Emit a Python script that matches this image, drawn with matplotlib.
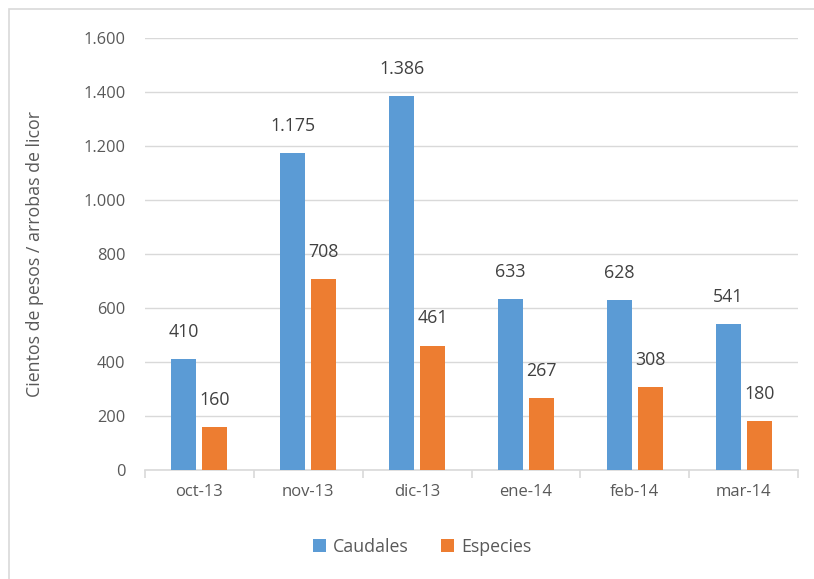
import matplotlib
matplotlib.use("Agg")
import matplotlib.pyplot as plt
import numpy as np
from matplotlib.patches import Rectangle

categories = ["oct-13", "nov-13", "dic-13", "ene-14", "feb-14", "mar-14"]
caudales = [410, 1175, 1386, 633, 628, 541]
especies = [160, 708, 461, 267, 308, 180]
yticks = [0, 200, 400, 600, 800, 1000, 1200, 1400, 1600]

def fmt(v):
    return f"{v:,}".replace(",", ".")

plt.rcParams['font.family'] = ['Open Sans', 'DejaVu Sans']
txt = "#595959"
blue = "#5B9BD5"
orange = "#ED7D31"

fig = plt.figure(figsize=(8.14, 5.79), dpi=100)
fig.patches.append(Rectangle((9/814, -0.1), 1.2, (579-9)/579 + 0.1, transform=fig.transFigure,
                             fill=False, edgecolor="#D9D9D9", linewidth=1.2))
ax = fig.add_axes([145/814, 109/579, 653/814, 432/579])

x = np.arange(len(categories))
w = 0.23
off = 0.1425
b1 = ax.bar(x - off, caudales, w, color=blue, label="Caudales", zorder=3)
b2 = ax.bar(x + off, especies, w, color=orange, label="Especies", zorder=3)

for bars, vals in ((b1, caudales), (b2, especies)):
    for r, v in zip(bars, vals):
        ax.annotate(fmt(v), (r.get_x() + r.get_width()/2, v), xytext=(0, 19.5),
                    textcoords="offset points", ha="center", va="center",
                    fontsize=12.8, color="#404040")

ax.set_xlim(-0.5, len(categories) - 0.5)
ax.set_ylim(0, 1600)
ax.set_yticks(yticks)
ax.set_yticklabels([fmt(v) for v in yticks], fontsize=11.8, color=txt)
ax.set_xticks(x)
ax.set_xticklabels(categories, fontsize=12, color=txt)
ax.tick_params(axis='y', length=0, pad=14)
ax.tick_params(axis='x', length=0, pad=10)
ax.set_xticks(np.arange(-0.5, len(categories), 1), minor=True)
ax.tick_params(axis='x', which='minor', length=6, color="#D9D9D9", width=1.2)
ax.grid(axis='y', color="#D9D9D9", linewidth=1, zorder=0)
for s in ("top", "right", "left"):
    ax.spines[s].set_visible(False)
ax.spines["bottom"].set_color("#D9D9D9")
ax.spines["bottom"].set_linewidth(1.2)
ax.set_ylabel("Cientos de pesos / arrobas de licor", fontsize=12.8, color=txt, labelpad=28)

fig.legend(handles=[b1, b2], loc="center", bbox_to_anchor=(422/814, 1 - 547/579), ncol=2,
           frameon=False, fontsize=12.8, labelcolor=txt, handlelength=0.75, handleheight=0.75,
           columnspacing=1.8, handletextpad=0.4)

fig.savefig("out.png", dpi=100)
